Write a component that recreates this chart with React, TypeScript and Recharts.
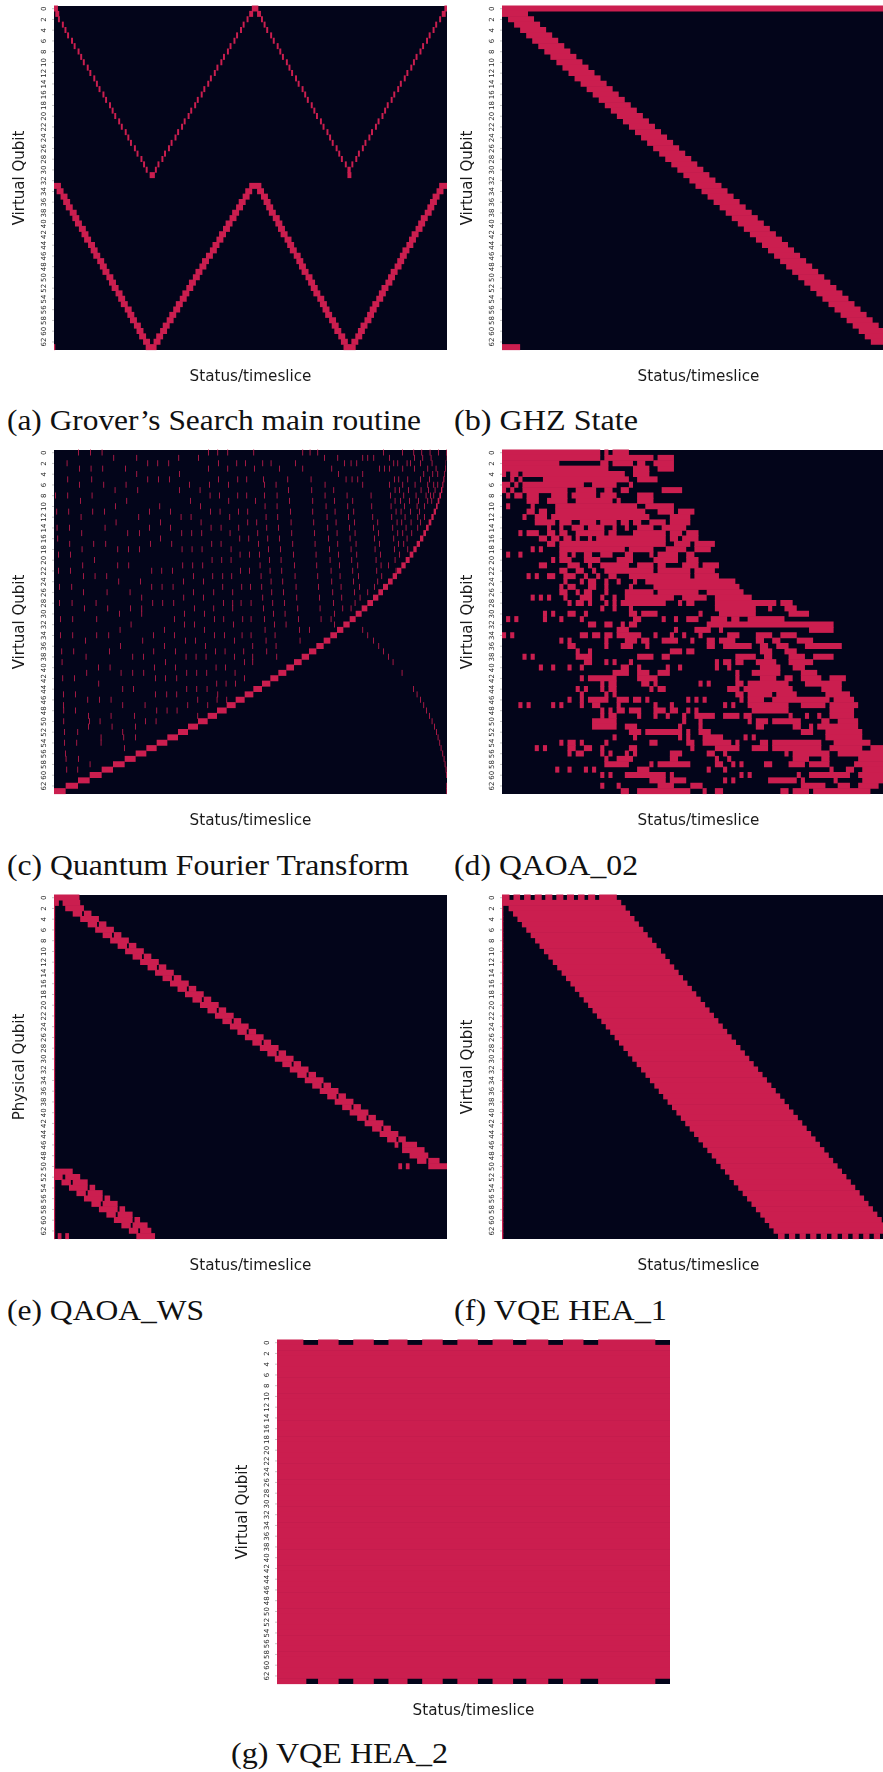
import { Bar, BarChart, CartesianGrid, XAxis, YAxis } from "recharts";

const DARK = "#03051a";
const CRIMSON = "#cb1e4f";

const qubitTicks = [0, 2, 4, 6, 8, 10, 12, 14, 16, 18, 20, 22, 24, 26, 28, 30, 32, 34, 36, 38, 40, 42, 44, 46, 48, 50, 52, 54, 56, 58, 60, 62];

// (a) Grover: per-row start of each arm, thin arms for rows 0-31, thick arms for rows 33-63
const groverThin1 = [0, 1, 3, 6, 8, 10, 13, 15, 18, 20, 22, 25, 27, 30, 32, 34, 37, 39, 42, 44, 46, 49, 51, 54, 56, 58, 61, 63, 66, 68, 70, 73];
const groverThin2 = [151, 149, 147, 144, 142, 139, 137, 134, 132, 129, 127, 124, 122, 119, 117, 114, 112, 109, 107, 104, 102, 99, 97, 94, 92, 89, 87, 84, 82, 79, 77, 74];
const groverThin3 = [153, 155, 158, 160, 162, 165, 167, 170, 172, 174, 177, 179, 181, 184, 186, 189, 191, 193, 196, 198, 200, 203, 205, 208, 210, 212, 215, 217, 219, 222, 224, 224];
const groverThin4 = [298, 296, 294, 291, 289, 286, 284, 281, 279, 276, 274, 272, 269, 267, 264, 262, 259, 257, 254, 252, 250, 247, 245, 242, 240, 237, 235, 232, 230, 227, 225, 224];
const groverThick1 = [0, 2, 5, 7, 9, 12, 14, 16, 19, 21, 23, 26, 28, 30, 33, 35, 37, 40, 42, 44, 47, 49, 51, 54, 56, 58, 61, 63, 65, 68, 70];
const groverThick2 = [149, 146, 144, 141, 139, 136, 134, 131, 129, 126, 124, 121, 119, 116, 113, 111, 108, 106, 103, 101, 98, 96, 93, 91, 88, 86, 83, 81, 78, 76, 73];
const groverThick3 = [153, 155, 158, 160, 162, 164, 167, 169, 171, 173, 176, 178, 180, 183, 185, 187, 189, 192, 194, 196, 198, 201, 203, 205, 207, 210, 212, 214, 217, 219, 221];
const groverThick4 = [294, 292, 289, 287, 285, 283, 280, 278, 276, 273, 271, 269, 266, 264, 262, 260, 257, 255, 253, 250, 248, 246, 243, 241, 239, 237, 234, 232, 230, 227, 225];

// (b) GHZ: band start for rows 2-62
const ghzStarts = [1, 2, 3, 4, 5, 6, 7, 8, 9, 10, 11, 12, 13, 14, 15, 16, 17, 18, 19, 20, 21, 22, 23, 24, 25, 26, 27, 28, 29, 30, 31, 32, 33, 34, 35, 36, 37, 38, 39, 40, 41, 42, 43, 44, 45, 46, 47, 48, 49, 50, 51, 52, 53, 54, 55, 56, 57, 58, 59, 60, 61];

// (c) QFT: start of the main curve block per row, then the sparse dashes per row
const qftCurve = [1177, 1176, 1175, 1173, 1171, 1168, 1165, 1161, 1156, 1151, 1146, 1139, 1132, 1124, 1116, 1108, 1098, 1088, 1078, 1067, 1055, 1042, 1029, 1016, 1002, 987, 973, 957, 940, 923, 905, 887, 868, 849, 829, 809, 787, 765, 743, 720, 697, 673, 649, 624, 598, 572, 545, 518, 489, 461, 432, 402, 372, 340, 308, 277, 245, 212, 177, 143, 107, 72, 35, 0];
const qftDashes = [
  [72, 108, 143, 462, 490, 520, 598, 745, 767, 790, 987, 1044, 1078, 1102, 1127, 1152],
  [178, 247, 373, 432, 810, 850, 925, 940, 958, 1005, 1080, 1105, 1130],
  [38, 280, 310, 343, 492, 547, 573, 625, 650, 723, 870, 890, 907, 1018, 1030, 1058, 1068, 1098, 1133],
  [75, 110, 145, 213, 462, 520, 600, 675, 745, 832, 975, 990, 1005, 1045, 1080, 1120, 1145],
  [247, 375, 852, 925, 1108, 1135, 1150],
  [40, 112, 280, 312, 345, 492, 550, 577, 627, 700, 770, 875, 893, 910, 1020, 1033, 1060, 1098, 1125],
  [75, 148, 215, 405, 465, 522, 630, 665, 812, 925, 1005, 1045, 1082, 1120, 1138, 1150],
  [182, 250, 375, 437, 702, 772, 838, 1022, 1035, 1062, 1100, 1122, 1142],
  [3, 40, 113, 467, 495, 550, 577, 630, 668, 812, 878, 950, 1008, 1048, 1085, 1115, 1128, 1138],
  [78, 217, 408, 523, 603, 705, 775, 840, 895, 1022, 1038, 1065, 1092, 1120, 1132],
  [183, 316, 438, 632, 668, 815, 880, 952, 1010, 1050, 1088, 1110],
  [7, 43, 115, 150, 285, 348, 468, 497, 552, 580, 708, 775, 842, 898, 1025, 1040, 1068, 1095],
  [80, 253, 380, 410, 526, 635, 670, 818, 882, 955, 1012, 1052, 1090, 1110],
  [185, 318, 440, 580, 607, 710, 778, 845, 900, 970, 1028, 1042, 1070, 1098],
  [8, 45, 152, 285, 348, 470, 500, 553, 637, 672, 820, 885, 957, 1015, 1055, 1090],
  [82, 220, 255, 382, 412, 442, 527, 610, 712, 780, 848, 902, 972, 1030, 1045, 1072],
  [10, 318, 556, 583, 640, 675, 822, 887, 960, 1018, 1058],
  [46, 118, 154, 288, 352, 472, 500, 612, 715, 782, 850, 905, 975, 1032, 1048],
  [83, 190, 222, 255, 383, 413, 443, 530, 642, 678, 825, 890, 962, 1020, 1060],
  [12, 48, 557, 585, 615, 717, 785, 852, 907, 978, 1035],
  [120, 473, 502, 530, 645, 680, 827, 892, 965, 1022],
  [85, 190, 223, 385, 415, 445, 617, 720, 787, 855, 910, 980, 1002],
  [12, 48, 292, 322, 354, 558, 585, 647, 682, 830, 895, 967, 1025],
  [87, 122, 157, 417, 475, 505, 532, 620, 722, 790, 857, 912, 982],
  [193, 258, 387, 447, 650, 685, 832, 897, 970],
  [15, 52, 292, 323, 356, 505, 562, 588, 622, 725, 792, 860, 915, 960],
  [87, 158, 227, 417, 478, 535, 652, 687, 835, 900, 940],
  [262, 388, 447, 625, 727, 795, 862, 917],
  [15, 53, 125, 295, 325, 358, 507, 535, 560, 590, 655, 690, 837, 902],
  [90, 160, 228, 262, 420, 478, 535, 627, 730, 797, 865, 890],
  [195, 262, 390, 450, 657, 692, 840],
  [18, 55, 127, 360, 480, 508, 565, 590, 630, 732, 800, 830],
  [230, 390, 420, 537, 660, 695, 840],
  [197, 330, 450, 632, 735, 765, 925],
  [18, 55, 127, 163, 297, 360, 480, 510, 563, 590, 662, 940],
  [93, 265, 393, 423, 540, 635, 737, 957],
  [198, 330, 453, 595, 665, 973],
  [22, 58, 165, 298, 363, 483, 512, 568, 637, 987],
  [95, 235, 267, 395, 425, 455, 540, 595, 667, 1002],
  [23, 333, 570, 595, 1016],
  [132, 167, 300, 363, 485, 513],
  [97, 200, 235, 268, 397, 427, 457, 542, 1043],
  [25, 60, 303, 333, 367, 570],
  [133, 487, 515, 543],
  [205, 237, 397, 427, 458, 1077],
  [27, 63, 303, 337, 367, 490, 1088],
  [100, 135, 170, 430, 488, 517, 1098],
  [27, 205, 272, 400, 460, 1108],
  [28, 63, 307, 338, 368, 1116],
  [102, 170, 240, 430, 1125],
  [28, 105, 137, 273, 305, 1133],
  [102, 173, 243, 1140],
  [30, 70, 205, 1146],
  [140, 208, 243, 1151],
  [30, 67, 140, 1156],
  [210, 1160],
  [33, 1165],
  [35, 72, 1169],
  [107, 1172],
  [37, 70, 1175],
  [1176],
  [],
  [1177],
  [1177],
];

// (d) QAOA_02: filled runs per row, start-end in timeslices
const qaoa02Rows = [
  "0-24 25-26 27-31",
  "0-24 25-37 38-42",
  "0-14 24-26 27-32 33-35 37-42",
  "0-26 32-36 38-42",
  "0-1 2-4 5-30 32-36",
  "2-3 4-5 10-31 33-38",
  "0-2 3-4 5-20 22-28 31-32",
  "0-1 2-3 5-16 18-23 25-27 29-31 39-44",
  "1-2 3-5 6-9 12-16 17-23 24-28 33-37",
  "6-9 11-16 18-27 28-29 33-37",
  "1-2 7-8 13-33 35-42",
  "6-8 9-11 13-35 38-42 43-47",
  "5-6 8-11 12-36 41-46",
  "8-13 14-17 19-23 24-28 29-31 32-34 36-40 41-46",
  "11-12 14-15 17-20 21-25 27-28 30-31 33-37 39-45",
  "4-5 6-9 11-13 14-16 18-25 26-28 32-40 41-44 45-48",
  "9-11 12-14 15-17 18-19 21-22 23-40 41-43 44-48",
  "11-13 14-40 42-46 47-52",
  "7-8 9-10 14-30 31-37 40-45 47-51",
  "1-2 4-5 14-16 17-18 20-22 24-27 30-32 36-37 38-43 45-47",
  "12-13 14-17 20-24 28-32 37-43 45-48",
  "9-11 16-19 21-22 24-31 33-37 38-40 44-48 49-53",
  "14-16 18-20 22-23 25-37 38-46 47-52",
  "6-7 8-9 11-13 15-18 20-21 23-24 26-28 31-46 47-53",
  "15-16 19-20 21-23 25-26 28-29 32-33 35-57",
  "14-15 16-18 21-23 25-26 31-32 37-58",
  "14-16 18-19 20-22 25-26 30-37 38-48 50-59",
  "7-8 9-10 11-12 15-16 19-22 24-25 27-28 30-42 44-50 52-61",
  "16-17 18-20 21-22 25-26 27-28 29-40 43-44 45-47 52-67 68-71",
  "24-25 27-28 31-32 52-62 65-66 69-72",
  "10-11 12-13 16-18 20-21 31-33 34-38 48-49 53-62 70-75",
  "1-2 3-4 10-11 14-15 19-20 32-34 39-40 42-43 45-48 51-55 56-58 60-69",
  "21-23 25-27 29-30 31-33 50-81",
  "28-31 42-43 47-51 53-54 75-81",
  "0-1 2-3 19-21 22-24 25-27 28-34 37-38 41-42 44-45 48-49 55-58 62-66 68-72",
  "14-15 16-17 25-26 30-33 34-36 39-43 46-47 50-52 53-57 62-64 66-68 72-76",
  "16-18 25-26 29-32 35-36 50-52 54-61 63-65 67-70 74-83",
  "18-19 21-22 41-44 45-47 63-66 69-72",
  "5-6 7-8 18-22 33-37 39-41 57-62 64-66 70-74 76-81",
  "20-22 25-26 27-28 31-32 52-53 54-56 57-59 62-67 70-76",
  "9-10 12-13 16-17 19-20 29-31 33-34 40-41 43-44 52-53 55-56 63-68 71-74",
  "27-31 33-36 38-41 57-58 61-68 73-77",
  "19-20 21-28 33-38 57-58 63-67 69-71 73-78 80-84",
  "24-25 26-28 34-36 37-38 48-49 50-51 57-59 60-70 74-83",
  "18-19 20-21 24-25 26-28 36-37 38-40 55-58 59-71 78-83",
  "19-20 25-26 27-28 57-59 60-66 67-72 79-85",
  "16-17 19-20 21-26 28-31 32-34 35-36 45-46 47-48 49-50 58-59 60-64 66-80 81-86",
  "4-5 6-7 12-13 14-15 19-20 22-24 28-29 37-38 41-42 54-55 56-57 60-70 73-79 80-87",
  "24-25 26-27 28-30 31-34 37-40 41-43 45-46 47-48 61-70 80-86",
  "24-25 26-28 33-34 37-38 40-41 44-45 47-52 54-58 59-61 70-71 74-75 77-78 80-86",
  "22-28 44-45 48-49 60-61 62-65 66-73 78-80 82-87",
  "22-28 30-33 43-44 48-49 62-64 71-73 75-76 77-87",
  "31-34 35-44 45-46 48-51 73-76 79-88",
  "27-28 32-33 43-44 45-46 49-54 59-60 61-62 79-88",
  "14-15 16-18 19-20 25-26 36-38 45-47 49-56 57-58 63-65 66-78 81-90",
  "8-9 10-11 16-18 20-22 24-25 31-33 46-47 52-58 61-65 66-78 80-88 90-96",
  "16-17 18-20 24-25 26-27 30-31 32-33 41-44 50-52 54-55 69-70 71-80 82-96",
  "25-26 28-32 41-43 52-53 55-56 71-75 78-80 87-96",
  "25-31 36-37 38-46 52-54 56-57 58-59 64-66 70-74 75-80 86-96",
  "13-14 16-17 20-21 22-23 33-36 50-51 54-55 80-81 84-86 88-96",
  "24-25 26-27 30-40 41-42 58-59 60-61 72-73 75-85 87-96",
  "36-40 41-45 54-55 56-57 65-72 73-74 81-82 88-96",
  "24-25 28-29 38-42 46-49 73-79 82-85 87-92",
  "29-31 33-46 49-50 52-54 68-70 71-75 76-90",
];

// (e) QAOA_WS
const qaoaWsRows = [
  "0-6.8",
  "0-1.3 2.3-7",
  "3-8",
  "5-7.5 8-10",
  "7-12",
  "9-11.5 12-14",
  "11-16",
  "13-15.5 16-18",
  "15-20",
  "17-19.5 20-22",
  "19-24",
  "21-23.5 24-26",
  "23-28",
  "25-27.5 28-30",
  "27-32",
  "29-31.5 32-34",
  "31-36",
  "33-35.5 36-38",
  "35-40",
  "37-39.5 40-42",
  "39-44",
  "41-43.5 44-46",
  "43-48",
  "45-47.5 48-50",
  "47-52",
  "49-51.5 52-54",
  "51-56",
  "53-55.5 56-58",
  "55-60",
  "57-59.5 60-62",
  "59-64",
  "61-63.5 64-66",
  "63-68",
  "65-67.5 68-70",
  "67-72",
  "69-71.5 72-74",
  "71-76",
  "73-75.5 76-78",
  "75-80",
  "77-79.5 80-82",
  "79-84",
  "81-83.5 84-86",
  "83-88",
  "85-87.5 88-90",
  "87-92",
  "89-91.5 92-94",
  "91-92 93-97",
  "93-99",
  "95-100",
  "97-99.5 100-103",
  "92-93 94-95 100-105",
  "0-5",
  "0-2.3 3-7",
  "2-4.5 5-9",
  "4-9 9.5-11",
  "6-8.5 9-13",
  "8-13 13.5-15",
  "10-12.5 13-17",
  "12-17 17.5-19",
  "14-16.5 17-21",
  "16-21 21.5-23",
  "18-20.5 21-25",
  "20-22.5 23-26",
  "1-2 3-4 22-27",
];

// (f) VQE HEA_1: band edges per row, with row 0 and row 63 written out
const heaRow0 = "0-1.7 2.6-4.1 5-6.5 7.4-9 9.8-11.4 12.3-13.9 14.7-16.3 17.2-18.7 19.5-21.1 22-26";
const heaRow63 = "62.5-64 65-66.4 67.4-68.8 69.8-71.2 72.2-73.6 74.6-76 77-78.4 79.4-80.8 81.8-83.2 84.2-85.6 86.6-89";
const heaLeft = [0, 1.5, 2.5, 3.5, 4.5, 5.5, 6.5, 7.5, 8.5, 9.5, 10.5, 11.5, 12.5, 13.5, 14.5, 15.5, 16.5, 17.5, 18.5, 19.5, 20.5, 21.5, 22.5, 23.5, 24.5, 25.5, 26.5, 27.5, 28.5, 29.5, 30.5, 31.5, 32.5, 33.5, 34.5, 35.5, 36.5, 37.5, 38.5, 39.5, 40.5, 41.5, 42.5, 43.5, 44.5, 45.5, 46.5, 47.5, 48.5, 49.5, 50.5, 51.5, 52.5, 53.5, 54.5, 55.5, 56.5, 57.5, 58.5, 59.5, 60.5, 61.5];
const heaRight = [27, 28, 29, 30, 31, 32, 33, 34, 35, 36, 37, 38, 39, 40, 41, 42, 43, 44, 45, 46, 47, 48, 49, 50, 51, 52, 53, 54, 55, 56, 57, 58, 59, 60, 61, 62, 63, 64, 65, 66, 67, 68, 69, 70, 71, 72, 73, 74, 75, 76, 77, 78, 79, 80, 81, 82, 83, 84, 85, 86, 87, 88];

// (g) VQE HEA_2: only the first and last rows have gaps
const hea2Row0 = "0-9 14-21 26-33 38-44.5 49.5-56.5 61.5-68.5 73.5-80.5 85-92.5 97.5-104.5 109.5-129";
const hea2Row63 = "0-10 14-21 26-33 38-44.5 49.5-56.5 61.5-68.5 73.5-80.5 85-92.5 97.5-103.5 109.5-129";
const hea2Full = "0-134";

const groverRows = qftCurve.map((_, r) => {
  const runs: string[] = [];
  if (r < 32) {
    const w = r < 2 || r === 31 ? 3 : 1.5;
    [groverThin1[r], groverThin2[r], groverThin3[r], groverThin4[r]].forEach((s) => runs.push(`${s}-${s + w}`));
  }
  if (r > 32) {
    const i = r - 33;
    [groverThick1[i], groverThick2[i], groverThick3[i], groverThick4[i]].forEach((s) => runs.push(`${s}-${s + 5.3}`));
  }
  if (r === 33) runs.push("294-300");
  if (r === 63) runs.push("0-1");
  return runs.join(" ");
});

const ghzRows = ["0-65", "0-4.3", ...ghzStarts.map((s) => `${s}-${s + 4.3}`), "0-3"];

const qftRows = qftCurve.map((s, r) => {
  const end = r === 0 ? 1179 : qftCurve[r - 1];
  return [`${s}-${end}`, ...qftDashes[r].map((d) => `${d}-${d + 2.4}`)].join(" ");
});

const hea1Rows = [
  `${heaRow0} 0-0.3`,
  ...heaLeft.map((l, i) => `0-0.3 ${l}-${heaRight[i]}`),
  `0-0.3 ${heaRow63}`,
];

const hea2Rows = [hea2Row0, ...qftCurve.slice(2).map(() => hea2Full), hea2Row63];

// overlapping runs are merged, then each row becomes gap/fill pairs for the stacked bars
function buildTable(rows: string[]) {
  let maxRuns = 0;
  const table = rows.map((row, r) => {
    const runs = row.split(" ").filter(Boolean).map((p) => p.split("-").map(Number)).sort((a, b) => a[0] - b[0]);
    const merged: number[][] = [];
    runs.forEach(([s, e]) => {
      const last = merged[merged.length - 1];
      if (last && s <= last[1]) last[1] = Math.max(last[1], e);
      else merged.push([s, e]);
    });
    maxRuns = Math.max(maxRuns, merged.length);
    const item: any = { row: r };
    let pos = 0;
    merged.forEach(([s, e], i) => {
      item[`gap${i}`] = s - pos;
      item[`run${i}`] = e - s;
      pos = e;
    });
    return item;
  });
  table.forEach((item) => {
    for (let i = 0; i < maxRuns; i++) {
      if (item[`gap${i}`] === undefined) {
        item[`gap${i}`] = 0;
        item[`run${i}`] = 0;
      }
    }
  });
  return { table, maxRuns };
}

const QubitTick = ({ x, y, payload }: any) => (
  <text
    x={x}
    y={y}
    transform={`rotate(-90 ${x} ${y})`}
    textAnchor="middle"
    dominantBaseline="central"
    fontSize={7}
    fill="#262626"
    fontFamily="DejaVu Sans"
  >
    {payload.value}
  </text>
);

// the band scale leaves hairline gaps between rows, so each cell is grown to close them
const Cell = ({ x, y, width, height }: any) =>
  width > 0 ? <rect x={x} y={y - 0.5} width={width} height={height + 1} fill={CRIMSON} /> : null;

const PLOT_W = 393;
const PLOT_H = 344;

function Panel({ left, top, rows, columns, tickStart, tickStep, yLabel }: any) {
  const { table, maxRuns } = buildTable(rows);
  const xTicks: number[] = [];
  for (let t = tickStart; t <= columns + 0.01; t += tickStep) xTicks.push(t);
  const bars = [];
  for (let i = 0; i < maxRuns; i++) {
    bars.push(<Bar key={`g${i}`} dataKey={`gap${i}`} stackId="a" fill="none" isAnimationActive={false} />);
    bars.push(<Bar key={`r${i}`} dataKey={`run${i}`} stackId="a" fill={CRIMSON} shape={<Cell />} isAnimationActive={false} />);
  }
  return (
    <div style={{ position: "absolute", left: left - 54, top: top - 6, filter: "blur(0.45px)" }}>
      <BarChart
        width={54 + PLOT_W + 2}
        height={6 + PLOT_H + 42}
        data={table}
        layout="vertical"
        barCategoryGap={0}
        margin={{ top: 6, right: 2, bottom: 0, left: 0 }}
      >
        <CartesianGrid horizontal={false} vertical={false} fill={DARK} />
        <XAxis
          type="number"
          domain={[0, columns]}
          allowDataOverflow
          ticks={xTicks}
          interval={0}
          height={42}
          tickSize={3}
          tick={false}
          axisLine={false}
          tickLine={{ stroke: "#3a3a3a", strokeWidth: 0.8 }}
          label={{ value: "Status/timeslice", position: "insideTop", offset: 20, fontSize: 15.2, fill: "#1a1a1a", fontFamily: "DejaVu Sans" }}
        />
        <YAxis
          type="category"
          dataKey="row"
          width={54}
          ticks={qubitTicks}
          interval={0}
          tickSize={2}
          tickMargin={8}
          tick={<QubitTick />}
          axisLine={false}
          tickLine={{ stroke: "#8a8a8a", strokeWidth: 0.5 }}
          label={{ value: yLabel, angle: -90, position: "insideLeft", offset: 19, fontSize: 15, fill: "#1a1a1a", fontFamily: "DejaVu Sans", style: { textAnchor: "middle" } }}
        />
        {bars}
      </BarChart>
    </div>
  );
}

const panels = [
  { left: 53.5, top: 6.2, rows: groverRows, columns: 300, tickStart: 0, tickStep: 6, yLabel: "Virtual Qubit" },
  { left: 501.8, top: 6.2, rows: ghzRows, columns: 65, tickStart: 0, tickStep: 1.41, yLabel: "Virtual Qubit" },
  { left: 53.5, top: 450.3, rows: qftRows, columns: 1179, tickStart: 0, tickStep: 23.6, yLabel: "Virtual Qubit" },
  { left: 501.8, top: 450.3, rows: qaoa02Rows, columns: 96, tickStart: 0, tickStep: 2, yLabel: "Virtual Qubit" },
  { left: 54.3, top: 895.3, rows: qaoaWsRows.map((r) => `0-0.3 ${r}`), columns: 105, tickStart: 0, tickStep: 2.13, yLabel: "Physical Qubit" },
  { left: 501.8, top: 895.3, rows: hea1Rows, columns: 89, tickStart: 0, tickStep: 1.8, yLabel: "Virtual Qubit" },
  { left: 277.4, top: 1340, rows: hea2Rows, columns: 134, tickStart: 0.5, tickStep: 3, yLabel: "Virtual Qubit" },
];

const captions = [
  { text: "(a) Grover’s Search main routine", x: 7, to: 421, y: 430 },
  { text: "(b) GHZ State", x: 454, to: 638, y: 430 },
  { text: "(c) Quantum Fourier Transform", x: 7, to: 409, y: 875 },
  { text: "(d) QAOA_02", x: 454, to: 638, y: 875 },
  { text: "(e) QAOA_WS", x: 7, to: 204, y: 1320 },
  { text: "(f) VQE HEA_1", x: 454, to: 667, y: 1320 },
  { text: "(g) VQE HEA_2", x: 231, to: 448, y: 1763 },
];

export default function App() {
  return (
    <div style={{ position: "absolute", left: 0, top: 0, width: 883, height: 1772, overflow: "hidden", background: "#fff" }}>
      {panels.map((p, i) => (
        <Panel key={i} {...p} />
      ))}
      <svg width={883} height={1772} style={{ position: "absolute", left: 0, top: 0, pointerEvents: "none" }}>
        {captions.map((c) => (
          <text
            key={c.text}
            x={c.x}
            y={c.y}
            fontFamily="Liberation Serif"
            fontSize={30}
            fill="#111"
            textLength={c.to - c.x}
            lengthAdjust="spacingAndGlyphs"
          >
            {c.text}
          </text>
        ))}
      </svg>
    </div>
  );
}
